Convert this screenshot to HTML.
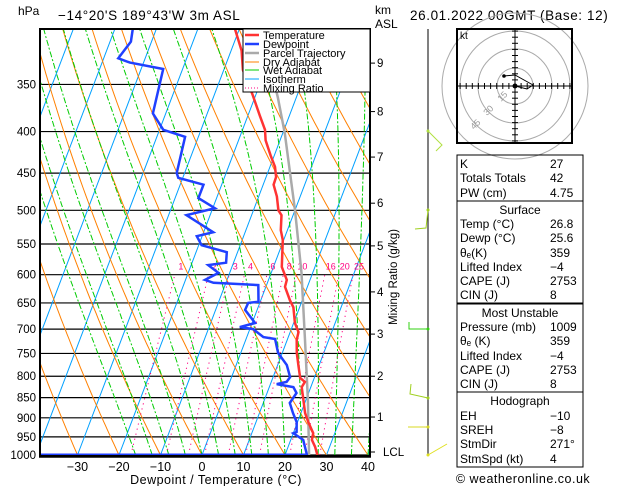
<!DOCTYPE html>
<html><head><meta charset="utf-8"><style>
html,body{margin:0;padding:0;background:#fff;}
svg{display:block;font-family:"Liberation Sans",sans-serif;}
</style></head><body>
<svg id="chart" width="629" height="486" viewBox="0 0 629 486" xmlns="http://www.w3.org/2000/svg">
<defs><clipPath id="plotclip"><rect x="40" y="29" width="330" height="427"/></clipPath></defs>
<rect width="629" height="486" fill="#fff"/>
<text x="18" y="15" font-size="12">hPa</text>
<text x="58" y="20" font-size="13.5" letter-spacing="0.6">−14°20'S  189°43'W  3m  ASL</text>
<text x="375" y="14" font-size="12">km</text>
<text x="375" y="28" font-size="12">ASL</text>
<text x="410" y="20" font-size="13.5" letter-spacing="0.6">26.01.2022  00GMT  (Base: 12)</text>
<g id="bg" clip-path="url(#plotclip)"></g>
<g id="series" clip-path="url(#plotclip)"></g>
<g id="axes"></g>
<g>
<rect x="243" y="29" width="127" height="63" fill="#fff" stroke="#000" stroke-width="1"/>
<g font-size="11">
<line x1="245" y1="35" x2="259" y2="35" stroke="#ff3333" stroke-width="2.5"/><text x="263" y="39">Temperature</text>
<line x1="245" y1="44" x2="259" y2="44" stroke="#2040ff" stroke-width="2.5"/><text x="263" y="48">Dewpoint</text>
<line x1="245" y1="53" x2="259" y2="53" stroke="#aaaaaa" stroke-width="2.5"/><text x="263" y="57">Parcel Trajectory</text>
<line x1="245" y1="62" x2="259" y2="62" stroke="#ff8000" stroke-width="1"/><text x="263" y="66">Dry Adiabat</text>
<line x1="245" y1="70" x2="259" y2="70" stroke="#00cc00" stroke-width="1"/><text x="263" y="74">Wet Adiabat</text>
<line x1="245" y1="79" x2="259" y2="79" stroke="#00a0ff" stroke-width="1"/><text x="263" y="83">Isotherm</text>
<line x1="245" y1="88" x2="259" y2="88" stroke="#ff0080" stroke-width="1" stroke-dasharray="1,2"/><text x="263" y="92">Mixing Ratio</text>
</g></g>
<g fill="none" stroke-width="1">
<line x1="428" y1="29" x2="428" y2="455" stroke="#000"/>
<polyline points="428,131 442,145 436,151" stroke="#b0e040"/><circle cx="428" cy="131" r="1.5" fill="#b0e040"/>
<polyline points="428,210 426,228 415,229" stroke="#a0d020"/><circle cx="428" cy="210" r="1.5" fill="#a0d020"/>
<polyline points="428,329 409,329 409,322" stroke="#30d010"/><circle cx="428" cy="329" r="1.5" fill="#30d010"/>
<polyline points="428,398 410,394 411,384" stroke="#a0d020"/><circle cx="428" cy="398" r="1.5" fill="#a0d020"/>
<polyline points="428,427 408,427" stroke="#d8d820"/><circle cx="428" cy="427" r="1.5" fill="#d8d820"/>
<polyline points="428,455 447,444" stroke="#e0e020"/><circle cx="428" cy="455" r="1.5" fill="#e0e020"/>
</g>
<g>
<rect x="457" y="29" width="115" height="114" fill="#fff" stroke="#000" stroke-width="2"/>
<g fill="none" stroke="#aaa"><circle cx="515" cy="86" r="18"/><circle cx="515" cy="86" r="37"/><circle cx="515" cy="86" r="55"/><circle cx="515" cy="86" r="73"/></g>
<rect x="457" y="29" width="115" height="114" fill="none" stroke="#000" stroke-width="2"/>
<g id="hodoticks" stroke="#000"><line x1="458" y1="86" x2="571" y2="86"/><line x1="515" y1="30" x2="515" y2="142"/></g>
<text x="460" y="39" font-size="10">kt</text>
<g font-size="9" fill="#999"><text transform="translate(501,102) rotate(-45)">15</text><text transform="translate(487,116) rotate(-45)">30</text><text transform="translate(474,130) rotate(-45)">45</text></g>
<polyline points="504,76 515,75 533,85 527,89 515,86" fill="none" stroke="#000" stroke-width="1"/>
<circle cx="504" cy="76" r="1.8" fill="#000"/><circle cx="515" cy="86" r="2.5" fill="#000"/>
</g>
<g font-size="12">
<rect x="457" y="155" width="126" height="46" fill="none" stroke="#000"/>
<rect x="457" y="201" width="126" height="102" fill="none" stroke="#000"/>
<rect x="457" y="304" width="126" height="88" fill="none" stroke="#000"/>
<rect x="457" y="392" width="126" height="75" fill="none" stroke="#000"/>
<text x="460" y="168">K</text><text x="550" y="168">27</text>
<text x="460" y="182">Totals Totals</text><text x="550" y="182">42</text>
<text x="460" y="197">PW (cm)</text><text x="550" y="197">4.75</text>
<text x="520" y="214" text-anchor="middle">Surface</text>
<text x="460" y="228">Temp (°C)</text><text x="550" y="228">26.8</text>
<text x="460" y="242">Dewp (°C)</text><text x="550" y="242">25.6</text>
<text x="460" y="257">θₑ(K)</text><text x="550" y="257">359</text>
<text x="460" y="271">Lifted Index</text><text x="550" y="271">−4</text>
<text x="460" y="285">CAPE (J)</text><text x="550" y="285">2753</text>
<text x="460" y="299">CIN (J)</text><text x="550" y="299">8</text>
<text x="520" y="317" text-anchor="middle">Most Unstable</text>
<text x="460" y="331">Pressure (mb)</text><text x="550" y="331">1009</text>
<text x="460" y="345">θₑ (K)</text><text x="550" y="345">359</text>
<text x="460" y="360">Lifted Index</text><text x="550" y="360">−4</text>
<text x="460" y="374">CAPE (J)</text><text x="550" y="374">2753</text>
<text x="460" y="388">CIN (J)</text><text x="550" y="388">8</text>
<text x="520" y="405" text-anchor="middle">Hodograph</text>
<text x="460" y="420">EH</text><text x="550" y="420">−10</text>
<text x="460" y="434">SREH</text><text x="550" y="434">−8</text>
<text x="460" y="448">StmDir</text><text x="550" y="448">271°</text>
<text x="460" y="463">StmSpd (kt)</text><text x="550" y="463">4</text>
</g>
<text x="523" y="483" font-size="12.5" text-anchor="middle" letter-spacing="0.5">© weatheronline.co.uk</text>
<script>
var tempP=[299,318,336,361,382,398,410,428,442,455,465,481,500,507,529,544,587,609,621,645,658,688,706,722,749,779,804,813,825,848,888,911,940,958,977,1000];
var tempT=[-31.1,-27.5,-25.4,-20.7,-17.2,-14.6,-13.5,-10.9,-8.8,-7.6,-7.5,-5.6,-4.0,-2.8,-1.6,-0.2,2.0,4.4,4.6,7.0,8.5,10.3,12.0,12.3,13.5,15.2,16.6,18.1,17.8,19.0,21.0,22.6,24.8,25.1,26.5,27.8];
var dewP=[299,310,325,329,335,380,398,406,450,456,465,483,497,507,532,538,552,563,580,584,597,609,614,618,648,650,663,688,696,700,716,720,749,775,802,813,818,825,839,863,888,911,937,940,958,1000];
var dewT=[-55.7,-55.0,-56.5,-53.3,-44.7,-43.1,-39.1,-33.2,-31.9,-31.1,-24.4,-24.4,-19.5,-25.7,-17.7,-21.3,-19.3,-12.6,-11.8,-15.9,-12.7,-15.3,-13.0,-2.0,-0.4,-2.8,-2.9,0.7,-2.6,0.8,4.0,7.0,9.0,12.2,14.1,13.7,11.5,15.8,17.1,16.4,18.1,19.8,20.7,20.0,23.0,25.3];
var parcelP=[1000,856,722,597,501,402,363,330,300];
var parcelT=[25.8,20.5,14.3,7.3,0.1,-9.5,-14.5,-19.5,-25];
var pressureTicks=[350,400,450,500,550,600,650,700,750,800,850,900,950,1000];
var tempTicks=[-30,-20,-10,0,10,20,30,40];
var kmTicks=[1,2,3,4,5,6,7,8,9];
var kmPressures=[898,800,710,630,553,490,430,378,329.5];
var mixRatios=[1,2,3,4,6,8,10,16,20,25];

var NS='http://www.w3.org/2000/svg';
function Y(p){return 455-353*Math.log(1000/p);}
function X(T,p){return 202+4.15*T+0.38*(455-Y(p));}
function mk(tag,attrs,parent){var e=document.createElementNS(NS,tag);for(var k in attrs)e.setAttribute(k,attrs[k]);parent.appendChild(e);return e;}
var bg=document.getElementById('bg'),series=document.getElementById('series'),axes=document.getElementById('axes');
function pl(pts,stroke,w,dash,parent,name){
  var s=pts.map(function(q){return q[0].toFixed(1)+','+q[1].toFixed(1);}).join(' ');
  var e=mk('polyline',{points:s,fill:'none',stroke:stroke,'stroke-width':w},parent);
  if(dash)e.setAttribute('stroke-dasharray',dash);
  
  
  return e;
}
pressureTicks.forEach(function(p){
  var l=mk('line',{x1:40,x2:370,y1:Y(p),y2:Y(p),stroke:'#000','stroke-width':1.2},bg);
  
  
});
for(var T=-130;T<=40;T+=10){pl([[X(T,1000),Y(1000)],[X(T,290),Y(290)]],'#00a0ff',1,null,bg,'isotherm');}
for(var th=-40;th<=200;th+=10){var pts=[];for(var p=1000;p>=290;p-=10){var t=(th+273.15)*Math.pow(p/1000,0.2857)-273.15;pts.push([X(t,p),Y(p)]);}pl(pts,'#ff8000',1,null,bg,'dry-adiabat');}
function es(t){return 6.112*Math.exp(17.67*t/(t+243.5));}
function moist(t0){var pts=[],t=t0;for(var p=1000;p>=290;p-=2){pts.push([X(t,p),Y(p)]);var TK=t+273.15,rs=0.622*es(t)/(p-es(t));var g=(287*TK+2.5e6*rs)/(1004+2.5e6*2.5e6*rs*0.622/(287*TK*TK))/p;t-=g*2;}return pts;}
for(var tw=-16;tw<=40;tw+=4){pl(moist(tw),'#00cc00',1,'6,2,2,2',bg,'wet-adiabat');}
mixRatios.forEach(function(w){var pts=[];for(var p=1000;p>=600;p-=10){var e=(w/1000)*p/(0.622+w/1000),l=Math.log(e/6.112),td=243.5*l/(17.67-l);pts.push([X(td,p),Y(p)]);}
  pl(pts,'#ff0080',1,'1.2,4',bg,'mixing-ratio-line');
  var t=mk('text',{x:pts[pts.length-1][0]+6,y:Y(600)-5,'font-size':9,fill:'#ff0080','text-anchor':'middle'},bg);t.textContent=w;
  
  
});
var dl=mk('line',{x1:40,x2:X(25.3,1000),y1:455,y2:455,stroke:'#2040ff','stroke-width':3},series);


pl(parcelP.map(function(p,i){return [X(parcelT[i],p),Y(p)];}),'#aaaaaa',2.5,null,series,'parcel-trajectory');
pl(dewP.map(function(p,i){return [X(dewT[i],p),Y(p)];}),'#2040ff',2.5,null,series,'dewpoint-line');
pl(tempP.map(function(p,i){return [X(tempT[i],p),Y(p)];}),'#ff3333',2.5,null,series,'temperature-line');
var fr=mk('rect',{x:40,y:29,width:330,height:427,fill:'none',stroke:'#000','stroke-width':2},axes);


mk('line',{x1:39,x2:371,y1:456.5,y2:456.5,stroke:'#000','stroke-width':2.5},axes);
pressureTicks.forEach(function(p){var t=mk('text',{x:36,y:Y(p)+4,'font-size':11.5,'text-anchor':'end'},axes);t.textContent=p;
  
  });
tempTicks.forEach(function(T){var t=mk('text',{x:X(T,1000),y:471,'font-size':12.5,'text-anchor':'middle'},axes);t.textContent=(T<0?'−'+(-T):T);
  
  });
var xt=mk('text',{x:216,y:484,'font-size':12.5,'text-anchor':'middle','letter-spacing':'0.5'},axes);xt.textContent='Dewpoint / Temperature (°C)';


kmTicks.forEach(function(k,i){var y=Y(kmPressures[i]);mk('line',{x1:370,x2:375,y1:y,y2:y,stroke:'#000'},axes);var t=mk('text',{x:377,y:y+4,'font-size':11.5},axes);t.textContent=k;
  
  });
mk('line',{x1:370,x2:375,y1:452,y2:452,stroke:'#000'},axes);
var lcl=mk('text',{x:383,y:456,'font-size':11.5},axes);lcl.textContent='LCL';


var mr=mk('text',{x:0,y:0,'font-size':11.5,'text-anchor':'middle',transform:'translate(397,277) rotate(-90)'},axes);mr.textContent='Mixing Ratio (g/kg)';


var ht=document.getElementById('hodoticks');
for(var i=-9;i<=9;i++){if(i==0)continue;var d=i*6.1;mk('line',{x1:515+d,x2:515+d,y1:83,y2:89},ht);mk('line',{x1:512,x2:518,y1:86+d,y2:86+d},ht);}
</script>
</svg>
</body></html>
